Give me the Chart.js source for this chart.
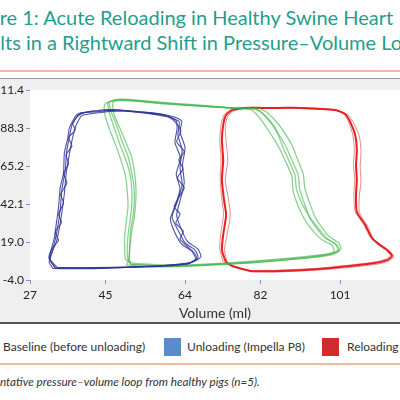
<!DOCTYPE html>
<html lang="en">
<head>
    <meta charset="UTF-8">
    <meta name="viewport" content="width=device-width, initial-scale=1.0">
    <title>Pressure–Volume Loops</title>
    <style>
        html, body {
            margin: 0;
            padding: 0;
        }
        body {
            width: 400px;
            height: 400px;
            overflow: hidden;
            position: relative;
            background: #fff;
            font-family: Lato, "Noto Sans", sans-serif;
        }
        .title {
            position: absolute;
            left: 0;
            white-space: nowrap;
            font-size: 20px;
            line-height: 24px;
            color: #1f9e8e;
        }
        #t1 { top: 5px; }
        #t2 { top: 30px; }
        .rule {
            position: absolute;
            left: 0;
            width: 400px;
            height: 2px;
            background: #f4b99a;
        }
        #frame {
            position: absolute;
            left: 0;
            top: 78px;
            width: 400px;
            height: 243px;
            background: #efefef;
            border-top: 1px solid #9a9a9a;
            border-bottom: 2px solid #555;
        }
        .swatch {
            position: absolute;
            top: 338px;
            width: 17px;
            height: 18px;
        }
        .label {
            position: absolute;
            top: 338px;
            line-height: 18px;
            font-size: 12px;
            color: #333;
            white-space: nowrap;
        }
        .caption {
            position: absolute;
            left: 0;
            top: 373px;
            font-size: 11.7px;
            line-height: 16px;
            font-style: italic;
            color: #333;
            white-space: nowrap;
        }
    </style>
    <script src="https://cdn.jsdelivr.net/npm/chart.js"></script>
</head>
<body>
    <div class="title" id="t1"><span class="cut">Figu</span>re 1: Acute Reloading in Healthy Swine Heart</div>
    <div class="title" id="t2"><span class="cut">Resu</span>lts in a Rightward Shift in Pressure–Volume Loops</div>
    <div class="rule" style="top:70px"></div>

    <div id="frame"><canvas id="pvChart" width="400" height="243"></canvas></div>

    <div class="swatch" style="left:-21px;background:#5cb85c"></div>
    <div class="label" style="left:3px">Baseline (before unloading)</div>
    <div class="swatch" style="left:164px;background:#5b8bc9"></div>
    <div class="label" style="left:187px">Unloading (Impella P8)</div>
    <div class="swatch" style="left:322px;background:#d52a2a"></div>
    <div class="label" style="left:347px">Reloading</div>
    <div class="rule" style="top:363px"></div>

    <div class="caption"><span class="cut">Represe</span>ntative pressure–volume loop from healthy pigs (n=5).</div>

    <script>
        // Ejes
        const volumeTicks = [27, 45, 64, 82, 101];
        const pressureTicks = [-4.0, 19.0, 42.1, 65.2, 88.3, 111.4];

        // Baseline (antes de la descarga): [volumen ml, presion mmHg]
        const baselineLoops = [
            [[50.9,5.7],[58.0,4.5],[67.6,5.1],[79.5,6.9],[91.4,9.4],[98.6,11.8],[100.5,14.2],[99.8,17.9],[97.4,21.5],[95.7,26.4],[93.8,33.7],[92.6,41.6],[91.4,50.7],[91.0,59.8],[89.5,68.9],[87.9,78.0],[84.8,90.1],[82.4,97.4],[80.7,99.9],[74.7,100.5],[67.6,101.7],[58.0,103.5],[50.9,105.3],[47.3,105.3],[45.6,103.5],[46.1,96.2],[47.3,87.1],[48.5,78.0],[49.9,68.9],[50.9,59.8],[51.3,50.7],[51.3,41.6],[50.9,32.4],[50.4,23.3],[50.2,14.2],[50.4,8.1],[50.9,5.7]],
            [[50.0,5.0],[57.0,4.0],[67.0,4.6],[79.0,6.3],[90.5,8.8],[97.5,11.0],[99.6,13.6],[99.0,17.2],[96.5,20.8],[94.5,26.0],[92.5,33.0],[91.0,41.0],[89.8,50.0],[89.5,59.0],[88.0,68.0],[86.2,77.5],[83.2,89.5],[81.0,96.8],[79.5,99.6],[74.0,100.8],[67.0,102.3],[58.0,104.0],[51.5,105.6],[48.5,105.8],[46.8,104.0],[47.0,97.0],[48.5,88.0],[50.0,79.0],[51.3,70.0],[52.0,60.5],[52.3,51.0],[52.2,42.0],[51.8,33.0],[51.2,24.0],[50.8,15.0],[50.6,8.5],[50.0,5.0]],
            [[51.5,6.2],[59.0,5.0],[68.5,5.6],[80.0,7.4],[92.0,10.0],[99.5,12.4],[101.2,14.8],[100.6,18.6],[98.4,22.4],[96.8,27.4],[95.0,34.6],[93.8,42.4],[92.6,51.5],[92.2,60.5],[90.8,69.6],[89.4,78.5],[86.4,90.3],[83.6,97.8],[81.5,100.2],[75.5,100.6],[68.0,101.4],[58.5,103.0],[51.0,104.8],[46.5,104.7],[44.8,102.5],[45.0,95.0],[46.2,86.0],[47.6,77.0],[48.8,68.0],[49.8,59.0],[50.2,50.0],[50.4,41.0],[50.0,32.0],[49.6,23.0],[49.6,14.0],[49.8,8.5],[51.5,6.2]],
            [[51.0,5.5],[58.5,4.3],[68.0,5.0],[80.5,6.6],[91.8,9.0],[99.0,11.3],[100.8,13.8],[100.2,17.5],[98.0,21.0],[96.0,26.8],[93.8,34.0],[92.0,42.0],[90.6,51.0],[90.2,60.0],[88.6,69.5],[87.0,79.0],[85.5,88.5],[82.8,96.5],[80.8,99.8],[75.0,100.4],[67.8,101.8],[58.2,103.6],[51.2,105.0],[47.6,105.6],[45.9,104.0],[46.4,98.0],[47.8,89.0],[49.0,80.0],[50.4,71.0],[51.2,62.0],[51.8,53.0],[51.9,44.0],[51.6,35.0],[51.0,26.0],[50.8,17.0],[50.7,9.5],[51.0,5.5]]
        ];

        // Descarga (Impella P8)
        const unloadingLoops = [
            [[33.0,3.3],[41.3,3.3],[50.9,3.9],[58.0,4.5],[65.2,6.3],[67.1,9.4],[66.4,14.2],[64.0,18.5],[62.3,26.4],[60.9,34.3],[62.3,44.6],[63.3,53.7],[62.8,64.6],[63.3,75.0],[62.3,84.1],[62.6,92.0],[60.9,94.4],[58.0,96.8],[53.3,98.0],[47.3,99.3],[42.5,98.0],[38.9,97.4],[38.0,94.4],[37.0,90.1],[36.5,84.1],[35.8,75.0],[35.4,62.8],[34.6,50.7],[34.2,38.5],[33.7,29.4],[33.0,20.3],[32.3,13.0],[31.8,8.1],[33.0,3.3]],
            [[32.5,3.0],[40.0,2.8],[49.5,3.6],[57.5,4.2],[64.5,5.8],[66.5,8.8],[65.6,13.5],[63.2,17.8],[61.5,25.2],[60.5,33.0],[61.8,42.0],[62.8,51.5],[61.9,60.3],[62.9,70.1],[61.6,79.5],[62.1,88.0],[61.8,92.9],[59.8,95.6],[55.5,97.2],[49.0,98.8],[43.5,97.6],[39.5,96.0],[38.6,93.0],[37.8,88.5],[37.0,80.5],[36.3,71.0],[35.6,60.0],[35.2,48.5],[34.6,37.0],[34.0,27.5],[33.2,18.5],[32.0,11.5],[31.6,6.5],[32.5,3.0]],
            [[33.5,3.6],[42.5,3.5],[52.0,4.0],[59.0,4.9],[65.8,6.9],[67.8,10.2],[67.0,15.0],[64.6,19.3],[63.0,27.5],[62.0,35.5],[63.0,46.0],[63.8,55.0],[63.4,66.0],[64.0,76.5],[62.8,86.0],[63.2,92.6],[61.5,95.0],[57.0,97.3],[51.5,98.6],[45.5,99.6],[41.5,98.4],[38.2,96.5],[37.4,93.5],[36.4,88.4],[36.0,82.0],[35.2,73.0],[35.0,61.0],[34.2,52.0],[33.8,40.0],[33.3,30.5],[32.8,21.5],[32.0,14.0],[31.7,9.0],[33.5,3.6]],
            [[33.2,3.1],[45.0,3.2],[55.0,4.2],[61.0,5.0],[65.0,6.0],[66.8,9.0],[66.0,13.0],[64.5,16.5],[62.8,21.0],[63.6,25.5],[61.8,30.5],[62.8,36.0],[61.4,40.5],[62.6,46.5],[63.8,52.0],[62.2,58.0],[63.5,63.5],[62.5,69.0],[63.8,74.0],[62.0,80.0],[63.0,86.5],[61.8,91.5],[60.0,95.0],[56.0,96.8],[50.0,98.5],[44.5,98.8],[40.0,97.8],[38.3,95.2],[37.2,91.0],[37.8,87.0],[36.2,82.5],[37.0,77.5],[35.6,72.0],[36.2,66.5],[35.0,60.5],[35.8,55.0],[34.3,48.0],[35.0,43.0],[33.8,36.0],[34.5,31.0],[33.0,25.0],[33.8,20.0],[32.2,15.0],[31.5,9.5],[33.2,3.1]]
        ];

        // Recarga
        const reloadingLoops = [
            [[75.2,4.5],[79.5,1.5],[86.7,1.5],[96.2,2.7],[103.4,4.5],[109.3,6.3],[112.2,8.1],[113.4,10.6],[112.2,14.2],[110.5,17.3],[108.6,21.5],[107.0,29.4],[105.0,37.3],[104.8,47.6],[105.0,56.7],[104.8,65.8],[105.0,75.0],[104.6,84.1],[103.4,92.0],[102.2,96.8],[99.8,99.3],[91.4,100.5],[84.3,100.5],[78.3,100.5],[75.4,99.3],[73.8,96.2],[73.1,90.1],[72.8,81.0],[73.1,68.9],[72.8,56.7],[73.3,44.6],[73.8,35.5],[73.1,23.3],[72.8,14.2],[73.8,6.9],[75.2,4.5]],
            [[75.5,4.0],[80.0,1.2],[87.0,1.0],[96.5,2.2],[103.8,3.8],[109.8,5.6],[112.6,7.5],[113.8,10.2],[112.8,13.8],[111.0,17.0],[109.0,21.0],[107.5,29.0],[105.6,37.0],[105.6,47.0],[106.0,56.0],[105.8,65.0],[106.0,74.0],[105.6,83.5],[104.2,91.5],[102.8,96.5],[100.2,99.0],[91.5,100.2],[84.5,100.2],[78.5,100.0],[75.8,98.8],[74.2,95.5],[73.6,89.5],[73.8,80.5],[74.2,68.5],[73.6,56.5],[74.4,44.5],[74.8,35.5],[74.0,23.0],[73.4,14.0],[74.2,6.6],[75.5,4.0]],
            [[75.0,5.0],[79.0,2.0],[86.5,2.0],[96.0,3.2],[103.0,5.0],[109.0,6.8],[111.8,8.6],[113.0,11.0],[111.8,14.6],[110.0,17.6],[108.2,22.0],[106.6,30.0],[104.6,37.6],[104.3,48.0],[104.5,57.0],[104.2,66.0],[104.4,75.5],[104.0,84.5],[103.0,92.2],[101.8,97.0],[99.5,99.5],[91.2,100.8],[84.0,100.8],[78.0,100.8],[75.0,99.6],[73.4,96.6],[72.6,90.6],[72.3,81.5],[72.6,69.0],[72.4,57.0],[72.8,45.0],[73.2,36.0],[72.5,23.5],[72.3,14.5],[73.2,7.2],[75.0,5.0]]
        ];

        function loopDataset(points, color, width) {
            return {
                data: points.map(p => ({ x: p[0], y: p[1] })),
                showLine: true,
                borderColor: color,
                borderWidth: width,
                pointRadius: 0,
                tension: 0.2,
                fill: false
            };
        }

        const datasets = [];
        unloadingLoops.forEach(l => datasets.push(loopDataset(l, 'rgba(46, 52, 150, 0.85)', 1.1)));
        baselineLoops.forEach(l => datasets.push(loopDataset(l, 'rgba(60, 180, 70, 0.6)', 1.3)));
        reloadingLoops.forEach((l, i) => datasets.push(loopDataset(l, i === 0 ? '#e8201f' : 'rgba(215, 60, 60, 0.6)', i === 0 ? 2 : 1)));

        // Fondo blanco del area de trazado
        const plotBackground = {
            id: 'plotBackground',
            beforeDraw(chart) {
                const a = chart.chartArea;
                chart.ctx.save();
                chart.ctx.fillStyle = '#fff';
                chart.ctx.fillRect(a.left, a.top, a.right - a.left, a.bottom - a.top);
                chart.ctx.restore();
            }
        };

        function draw() {
            document.querySelectorAll('.cut').forEach(s => {
                s.parentElement.style.left = (-s.offsetWidth) + 'px';
            });

            new Chart(document.getElementById('pvChart'), {
                type: 'scatter',
                data: { datasets: datasets },
                plugins: [plotBackground],
                options: {
                    responsive: false,
                    animation: false,
                    layout: { padding: { top: 11, right: 0, left: 0, bottom: 0 } },
                    plugins: {
                        legend: { display: false },
                        tooltip: { enabled: false }
                    },
                    scales: {
                        x: {
                            type: 'linear',
                            min: 27,
                            max: 115.3,
                            afterBuildTicks: s => { s.ticks = volumeTicks.map(v => ({ value: v })); },
                            afterFit: s => { s.height = 42; },
                            border: { display: false },
                            grid: { drawOnChartArea: false, tickLength: 4, color: '#8a90c8' },
                            ticks: {
                                padding: 4,
                                color: '#222',
                                font: { family: 'Lato', size: 12 },
                                callback: v => String(v)
                            },
                            title: {
                                display: true,
                                text: 'Volume (ml)',
                                color: '#333',
                                padding: { top: 0, bottom: 0 },
                                font: { family: 'Lato', size: 14 }
                            }
                        },
                        y: {
                            type: 'linear',
                            min: -4.0,
                            max: 111.4,
                            afterBuildTicks: s => { s.ticks = pressureTicks.map(v => ({ value: v })); },
                            afterFit: s => { s.width = 30; },
                            border: { display: false },
                            grid: { drawOnChartArea: false, tickLength: 4, color: '#8a90c8' },
                            ticks: {
                                padding: 2,
                                color: '#222',
                                font: { family: 'Lato', size: 12 },
                                callback: v => v.toFixed(1)
                            }
                        }
                    }
                }
            });
        }

        if (document.fonts && document.fonts.ready) {
            document.fonts.ready.then(draw);
        } else {
            draw();
        }
    </script>
</body>
</html>
